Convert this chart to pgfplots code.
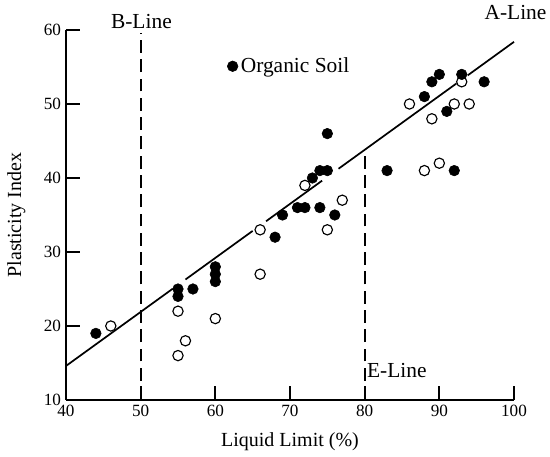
\documentclass[border=0pt]{standalone}
\usepackage{fontspec}
\setmainfont{Liberation Serif}
\usepackage{pgfplots}
\pgfplotsset{compat=1.18}

\pgfplotstableread{
x y
44 19
55 25
55 24
57 25
60 28
60 27
60 26
68 32
69 35
71 36
72 36
73 40
74 41
75 41
74 36
75 46
76 35
83 41
88 51
89 53
90 54
91 49
92 41
93 54
96 53
}\organic

\pgfplotstableread{
x y
46 20
55 22
56 18
55 16
60 21
66 33
66 27
72 39
75 33
77 37
86 50
88 41
89 48
90 42
92 50
93 53
94 50
}\inorganic

\begin{document}
\begin{tikzpicture}
\begin{axis}[
  width=313.6pt, height=259pt,
  scale only axis,
  xmin=40, xmax=100, ymin=10, ymax=60,
  axis x line=bottom, axis y line=left,
  axis line style={-, line width=1.9pt},
  xtick={40,50,...,100}, ytick={10,20,...,60},
  tick align=inside,
  major tick length=10pt,
  tick style={line width=1.6pt, black},
  clip=false,
  /pgf/number format/assume math mode=true,
  ticklabel style={font=\fontsize{12}{14}\selectfont},
  label style={font=\fontsize{14}{16}\selectfont},
  xlabel={Liquid Limit (\%)},
  ylabel={Plasticity Index},
  xlabel style={yshift=-4pt},
  ylabel style={yshift=6pt},
  legend style={draw=none, fill=none, at={(axis cs:61.0,55.1)}, anchor=west,
    font=\fontsize{15}{17}\selectfont, legend cell align=left},
]
% A-line
\addplot[black, line width=1.2pt, forget plot] coordinates {(40,14.6) (54.3,25.04)};
\addplot[black, line width=1.2pt, forget plot] coordinates {(56,26.28) (65,32.85)};
\addplot[black, line width=1.2pt, forget plot] coordinates {(66.8,34.16) (74.3,39.64)};
\addplot[black, line width=1.2pt, forget plot] coordinates {(76.5,41.25) (92.3,52.78)};
\addplot[black, line width=1.2pt, forget plot] coordinates {(93.8,53.87) (100,58.4)};
% B-line and E-line
\addplot[black, line width=1.4pt, dash pattern=on 9pt off 4.5pt, forget plot]
  coordinates {(50,10) (50,59.6)};
\addplot[black, line width=1.4pt, dash pattern=on 9pt off 4.5pt, forget plot]
  coordinates {(80,10) (80,43.8)};
% data
\addplot[only marks, mark=*, mark size=3.7pt, black] table {\organic};
\addlegendentry{Organic Soil}
\addplot[only marks, mark=o, mark size=3.6pt, black, mark options={fill=white, line width=0.8pt}, forget plot] table {\inorganic};
\node[font=\fontsize{15}{17}\selectfont] at (axis cs:50.1,61.2) {B-Line};
\node[font=\fontsize{15}{17}\selectfont] at (axis cs:100.2,62.4) {A-Line};
\node[font=\fontsize{15}{17}\selectfont, anchor=west, inner sep=1pt] at (axis cs:80.1,14.0) {E-Line};
\end{axis}
\pgfresetboundingbox
\path ([shift={(-46.2pt,-39.9pt)}]current axis.south west)
  rectangle ([shift={(25.2pt,21pt)}]current axis.north east);
\end{tikzpicture}
\end{document}
